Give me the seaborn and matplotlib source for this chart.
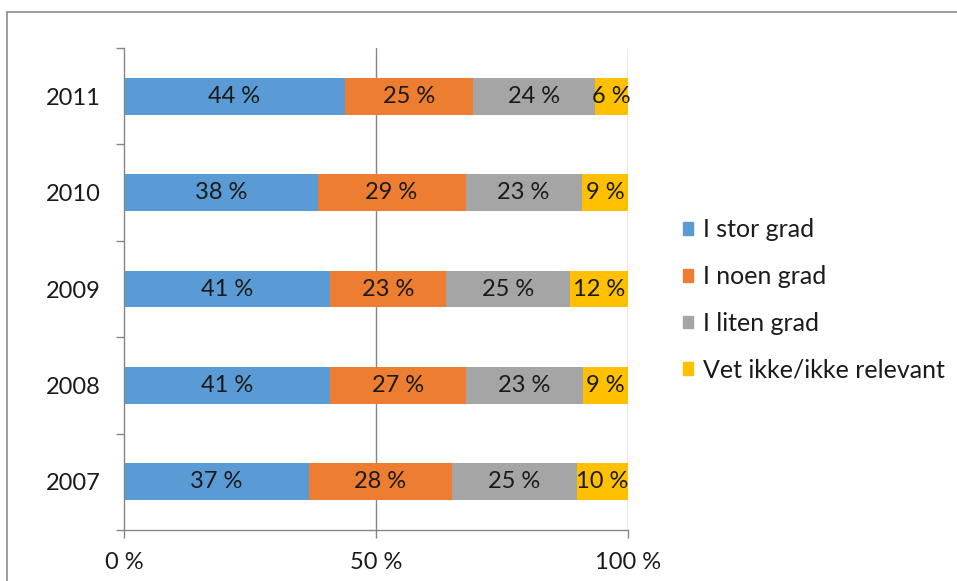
import numpy as np
import pandas as pd
import matplotlib
matplotlib.use("Agg")
import matplotlib.pyplot as plt
import matplotlib.patches as mpatches
from matplotlib.ticker import FixedLocator
import seaborn as sns

# %% Data
years = ["2011", "2010", "2009", "2008", "2007"]
series_names = ["I stor grad", "I noen grad", "I liten grad", "Vet ikke/ikke relevant"]
stor = [43.8, 38.4, 40.9, 40.9, 36.7]
noen = [25.4, 29.4, 23.0, 27.0, 28.3]
liten = [24.3, 23.0, 24.6, 23.2, 24.8]
vet_ikke = [6.5, 9.2, 11.5, 8.9, 10.2]
x_ticks = [0, 50, 100]
x_tick_labels = ["0 %", "50 %", "100 %"]

colors = ["#5B9BD5", "#ED7D31", "#A5A5A5", "#FFC000"]

# %% Table with cumulative values
df = pd.DataFrame({"year": years, series_names[0]: stor, series_names[1]: noen,
                   series_names[2]: liten, series_names[3]: vet_ikke})
cum = df[series_names].cumsum(axis=1)

# %% Style
sns.set_theme(style="white")
plt.rcParams["font.family"] = ["Lato", "DejaVu Sans"]
fs = 17
txt = "#1a1a1a"
grey = "#868686"

fig = plt.figure(figsize=(9.57, 5.81), dpi=100)
ax = fig.add_axes([124 / 957, 1 - 530 / 581, (628 - 124) / 957, (530 - 48) / 581])

# stacked bars: draw the longest cumulative first
for i in reversed(range(len(series_names))):
    sns.barplot(x=cum[series_names[i]], y=df["year"], order=years, orient="h",
                color=colors[i], saturation=1, width=0.38, linewidth=0, ax=ax)

# labels in segments
for i, name in enumerate(series_names):
    for j, yr in enumerate(years):
        v = df[name].iloc[j]
        mid = cum[name].iloc[j] - v / 2
        ax.text(mid, j, f"{v:.0f} %", ha="center", va="center", fontsize=fs, color=txt)

ax.set_xlim(0, 100)
ax.set_ylim(4.5, -0.5)
ax.set_xlabel("")
ax.set_ylabel("")

# axes look
ax.set_axisbelow(True)
for x in [50, 100]:
    ax.axvline(x, color=grey, lw=1, zorder=0)
for s in ["top", "right"]:
    ax.spines[s].set_visible(False)
for s in ["left", "bottom"]:
    ax.spines[s].set_color(grey)
    ax.spines[s].set_linewidth(1)

ax.set_xticks(x_ticks)
ax.set_xticklabels(x_tick_labels)
ax.tick_params(axis="x", which="major", direction="out", length=6, width=1, color=grey,
               labelsize=fs, labelcolor=txt, pad=10, bottom=True)
ax.yaxis.set_minor_locator(FixedLocator(np.arange(-0.5, len(years), 1)))
ax.tick_params(axis="y", which="major", length=0, labelsize=fs, labelcolor=txt, pad=17)
ax.tick_params(axis="y", which="minor", direction="out", length=6, width=1, color=grey, left=True)

# legend
handles = [mpatches.Patch(color=c, label=n) for c, n in zip(colors, series_names)]
fig.legend(handles=handles, loc="center left", bbox_to_anchor=(683 / 957, 1 - 300 / 581),
           frameon=False, fontsize=18, handlelength=0.4, handleheight=0.4,
           handletextpad=0.4, labelspacing=0.95, borderpad=0, borderaxespad=0,
           labelcolor=txt)

# chart area border
fig.patches.append(mpatches.Rectangle((7 / 957, -0.1), 1.2, 1 - 12 / 581 + 0.1,
                                      transform=fig.transFigure, fill=False,
                                      edgecolor="#8c8c8c", lw=1.2))

fig.savefig("out.png", dpi=100)
